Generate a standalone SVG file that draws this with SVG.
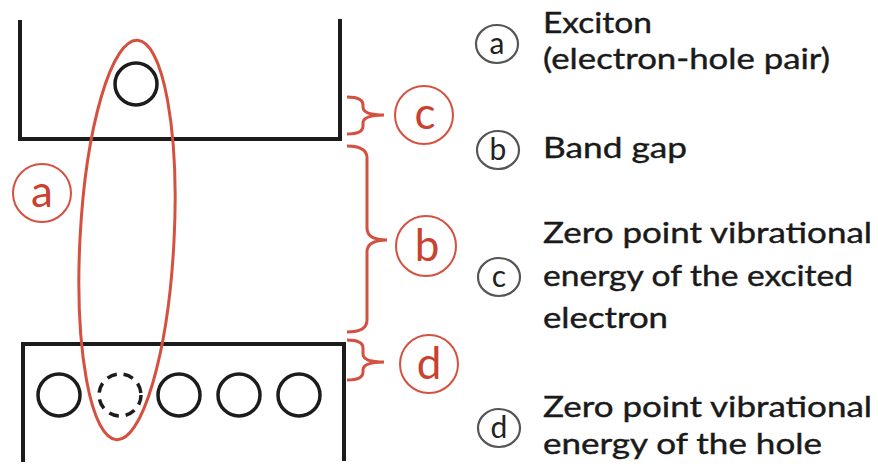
<svg xmlns="http://www.w3.org/2000/svg" width="878" height="467" viewBox="0 0 878 467">
<style>
.band{fill:none;stroke:#1c1c1c;stroke-width:4}
.part{fill:none;stroke:#1c1c1c;stroke-width:3.5}
.red{fill:none;stroke:#d4503f;stroke-width:3}
.redc{fill:#fff;stroke:#d4503f;stroke-width:2}
.redt{font-family:Lato,"Open Sans",sans-serif;font-size:44px;fill:#c9412f;text-anchor:middle}
.leg{fill:none;stroke:#555;stroke-width:2.2}
.legt{font-family:Lato,"Open Sans",sans-serif;font-size:30px;fill:#222;text-anchor:middle}
.txt{font-family:Lato,"Open Sans",sans-serif;font-size:28px;fill:#1a1a1a;stroke:#1a1a1a;stroke-width:0.4}
</style>
<rect width="878" height="467" fill="#fff"/>
<g id="conduction-band">
<path class="band" d="M20,20 V139 H340 V19"/>
<circle class="part" cx="136" cy="84" r="21"/>
</g>
<g id="valence-band">
<path class="band" d="M23,462 V344 H344 V461"/>
<circle class="part" cx="59" cy="395" r="21"/>
<circle class="part" cx="120" cy="395" r="21" stroke-dasharray="10 7"/>
<circle class="part" cx="179" cy="395" r="21"/>
<circle class="part" cx="239" cy="395" r="21"/>
<circle class="part" cx="299" cy="395" r="21"/>
</g>
<g id="exciton">
<ellipse class="red" cx="127" cy="240" rx="47" ry="200" transform="rotate(3 127 240)"/>
</g>
<g id="connectors">
<path class="red" d="M347,97 Q363,97 363,105 L363,107 Q363,115 384,115 Q363,115 363,123 L363,126 Q363,134 347,134"/>
<path class="red" d="M347,146 Q367,146 367,158 L367,228 Q367,240 387,240 Q367,240 367,252 L367,320 Q367,332 347,332"/>
<path class="red" d="M347,340 Q363,340 363,348 L363,354 Q363,362 384,362 Q363,362 363,370 L363,372 Q363,380 347,380"/>
</g>
<g id="label-a">
<circle class="redc" cx="42" cy="193" r="29"/>
<text class="redt" x="42" y="207">a</text>
</g>
<g id="label-c">
<circle class="redc" cx="424" cy="115" r="29"/>
<text class="redt" x="425" y="129">c</text>
</g>
<g id="label-b">
<circle class="redc" cx="426" cy="246" r="30"/>
<text class="redt" x="427" y="261">b</text>
</g>
<g id="label-d">
<circle class="redc" cx="429" cy="364" r="29"/>
<text class="redt" x="429" y="379">d</text>
</g>
<g id="legend-a">
<ellipse class="leg" cx="497" cy="44" rx="21" ry="19"/>
<text class="legt" x="497" y="54">a</text>
<text class="txt" x="543" y="33" textLength="109" lengthAdjust="spacingAndGlyphs">Exciton</text>
<text class="txt" x="543" y="69" textLength="287" lengthAdjust="spacingAndGlyphs">(electron-hole pair)</text>
</g>
<g id="legend-b">
<ellipse class="leg" cx="498" cy="150" rx="21" ry="19"/>
<text class="legt" x="498" y="160">b</text>
<text class="txt" x="543" y="158" textLength="144" lengthAdjust="spacingAndGlyphs">Band gap</text>
</g>
<g id="legend-c">
<ellipse class="leg" cx="499" cy="277" rx="21" ry="19"/>
<text class="legt" x="499" y="287">c</text>
<text class="txt" x="543" y="243" textLength="329" lengthAdjust="spacingAndGlyphs">Zero point vibrational</text>
<text class="txt" x="543" y="286" textLength="310" lengthAdjust="spacingAndGlyphs">energy of the excited</text>
<text class="txt" x="543" y="328" textLength="125" lengthAdjust="spacingAndGlyphs">electron</text>
</g>
<g id="legend-d">
<ellipse class="leg" cx="499" cy="428" rx="21" ry="19"/>
<text class="legt" x="499" y="438">d</text>
<text class="txt" x="543" y="417" textLength="329" lengthAdjust="spacingAndGlyphs">Zero point vibrational</text>
<text class="txt" x="543" y="454" textLength="279" lengthAdjust="spacingAndGlyphs">energy of the hole</text>
</g>
</svg>
